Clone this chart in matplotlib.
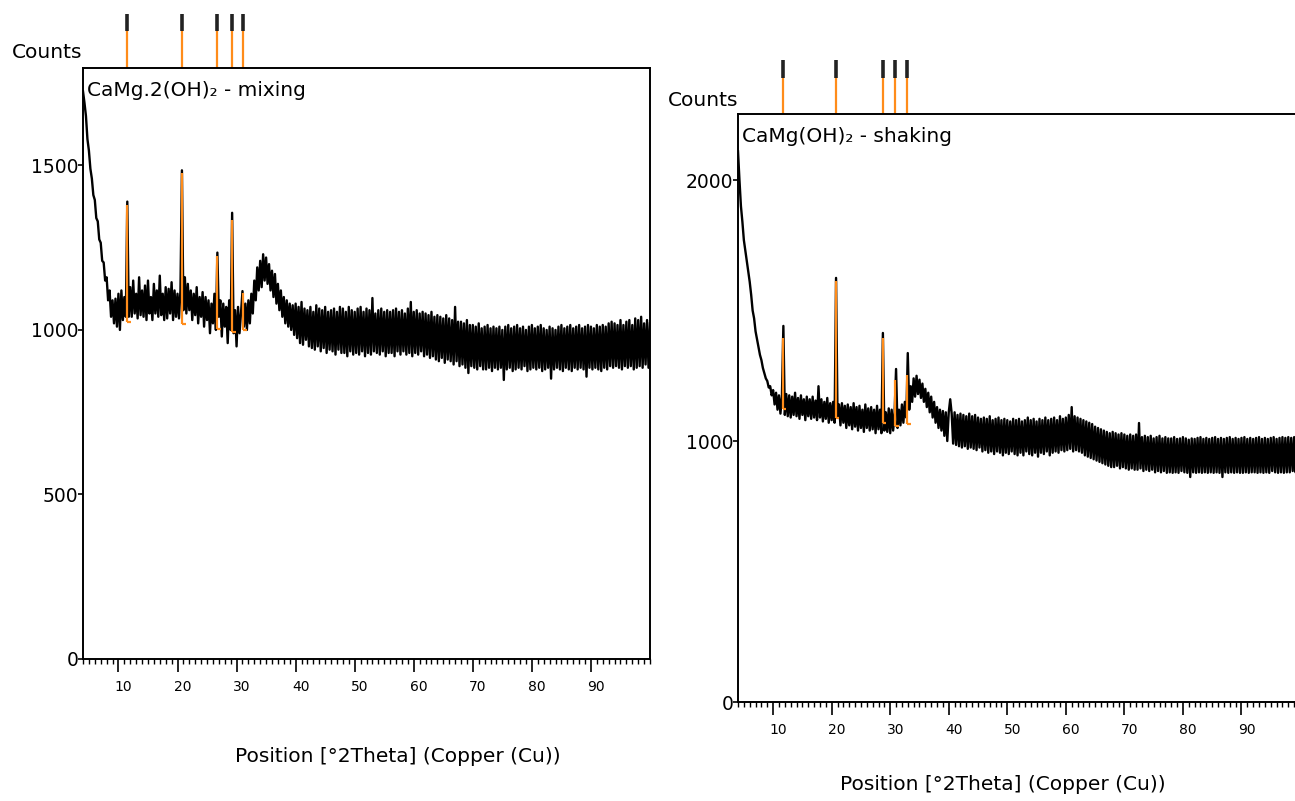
import numpy as np
import matplotlib
matplotlib.use('Agg')
import matplotlib.pyplot as plt
from matplotlib.ticker import MultipleLocator, FixedLocator
from matplotlib.transforms import ScaledTranslation

plt.rcParams['font.family'] = ['DejaVu Sans']

# 2theta grid of the scans, 4..100 deg in 0.25 deg steps
two_theta = np.arange(4.0, 100.001, 0.25)

# CaMg.2(OH)2 - mixing, counts
mixing_counts = [
    1725, 1690, 1650, 1580, 1545, 1490, 1460, 1410,
    1395, 1340, 1330, 1275, 1265, 1210, 1205, 1150,
    1160, 1090, 1120, 1040, 1090, 1020, 1095, 1010,
    1110, 1000, 1120, 1030, 1100, 1040, 1390, 1040,
    1130, 1040, 1150, 1050, 1110, 1035, 1160, 1045,
    1120, 1040, 1135, 1030, 1150, 1050, 1100, 1030,
    1140, 1050, 1120, 1040, 1165, 1045, 1110, 1030,
    1130, 1035, 1125, 1050, 1145, 1030, 1120, 1040,
    1110, 1035, 1120, 1485, 1060, 1160, 1050, 1140,
    1060, 1120, 1030, 1110, 1045, 1130, 1020, 1100,
    1040, 1115, 1010, 1100, 1030, 1090, 990, 1080,
    1020, 1110, 1000, 1235, 1040, 1090, 980, 1080,
    1010, 1070, 960, 1090, 1000, 1356, 990, 1060,
    950, 1070, 990, 1050, 1118, 1010, 1080, 1000,
    1090, 1020, 1110, 1050, 1150, 1090, 1190, 1120,
    1210, 1130, 1230, 1150, 1220, 1140, 1200, 1120,
    1180, 1100, 1170, 1080, 1140, 1060, 1120, 1040,
    1100, 1020, 1090, 1010, 1080, 1000, 1075, 985,
    1080, 975, 1070, 960, 1085, 955, 1065, 970,
    1060, 950, 1070, 945, 1055, 940, 1075, 950,
    1065, 935, 1060, 945, 1070, 930, 1055, 940,
    1060, 935, 1065, 925, 1055, 940, 1070, 930,
    1065, 930, 1055, 920, 1070, 935, 1060, 925,
    1055, 930, 1065, 925, 1070, 935, 1055, 920,
    1065, 930, 1060, 925, 1097, 935, 1050, 930,
    1060, 925, 1065, 935, 1055, 920, 1060, 930,
    1055, 930, 1060, 920, 1065, 935, 1055, 925,
    1060, 935, 1050, 925, 1065, 930, 1085, 920,
    1055, 930, 1060, 925, 1050, 935, 1055, 920,
    1050, 925, 1045, 915, 1055, 920, 1040, 910,
    1045, 905, 1040, 915, 1035, 900, 1045, 910,
    1035, 905, 1030, 895, 1070, 905, 1025, 890,
    1025, 895, 1020, 885, 1030, 869, 1015, 890,
    1015, 885, 1010, 880, 1020, 890, 1005, 880,
    1010, 880, 1015, 885, 1005, 875, 1010, 885,
    1005, 880, 1010, 885, 1000, 848, 1010, 880,
    1015, 885, 1005, 875, 1010, 880, 1015, 885,
    1005, 880, 1010, 890, 1000, 875, 1010, 880,
    1015, 885, 1005, 880, 1010, 885, 1015, 875,
    1005, 880, 1000, 885, 1010, 852, 1005, 880,
    1000, 885, 1010, 880, 1015, 875, 1005, 885,
    1010, 880, 1015, 875, 1005, 885, 1010, 880,
    1015, 885, 1005, 880, 1010, 858, 1015, 885,
    1010, 880, 1005, 885, 1015, 880, 1010, 875,
    1015, 885, 1010, 880, 1020, 890, 1025, 885,
    1020, 890, 1015, 885, 1030, 880, 1015, 890,
    1025, 885, 1030, 890, 1015, 880, 1035, 885,
    1030, 890, 1040, 885, 1020, 895, 1030, 885,
    1020,
]

# CaMg(OH)2 - shaking, counts
shaking_counts = [
    2110, 2000, 1900, 1840, 1770, 1730, 1690, 1650,
    1610, 1560, 1500, 1470, 1420, 1390, 1360, 1330,
    1310, 1280, 1260, 1240, 1230, 1205, 1210, 1175,
    1195, 1140, 1185, 1120, 1175, 1105, 1170, 1441,
    1100, 1180, 1095, 1175, 1090, 1170, 1100, 1185,
    1095, 1165, 1085, 1175, 1100, 1160, 1080, 1170,
    1095, 1160, 1085, 1170, 1090, 1155, 1080, 1210,
    1090, 1160, 1075, 1150, 1085, 1165, 1070, 1145,
    1080, 1150, 1070, 1625, 1090, 1140, 1060, 1145,
    1070, 1135, 1050, 1140, 1060, 1130, 1045, 1145,
    1055, 1130, 1040, 1135, 1050, 1120, 1035, 1140,
    1050, 1125, 1040, 1130, 1045, 1120, 1030, 1135,
    1045, 1120, 1030, 1414, 1040, 1110, 1035, 1125,
    1030, 1120, 1040, 1110, 1276, 1050, 1120, 1060,
    1140, 1070, 1150, 1090, 1337, 1120, 1210, 1150,
    1240, 1170, 1250, 1180, 1235, 1165, 1220, 1150,
    1200, 1130, 1185, 1110, 1170, 1090, 1150, 1070,
    1130, 1050, 1120, 1040, 1115, 1020, 1110, 1000,
    1110, 1160, 1105, 990, 1110, 985, 1100, 980,
    1105, 975, 1100, 980, 1095, 970, 1105, 975,
    1095, 970, 1100, 965, 1090, 975, 1085, 960,
    1090, 965, 1085, 955, 1095, 960, 1080, 950,
    1085, 960, 1090, 955, 1080, 945, 1085, 955,
    1080, 950, 1075, 960, 1085, 950, 1080, 945,
    1085, 955, 1075, 945, 1080, 960, 1090, 950,
    1080, 945, 1085, 955, 1075, 940, 1085, 955,
    1080, 950, 1090, 960, 1080, 945, 1085, 955,
    1090, 960, 1080, 955, 1095, 965, 1085, 960,
    1090, 965, 1100, 970, 1130, 960, 1095, 965,
    1090, 960, 1085, 955, 1080, 945, 1075, 940,
    1070, 935, 1065, 930, 1055, 925, 1050, 920,
    1045, 915, 1040, 910, 1035, 905, 1030, 900,
    1035, 900, 1030, 905, 1025, 895, 1030, 900,
    1025, 895, 1020, 890, 1025, 895, 1020, 890,
    1025, 890, 1069, 895, 1015, 885, 1020, 890,
    1015, 885, 1020, 890, 1010, 880, 1015, 885,
    1020, 880, 1010, 885, 1015, 878, 1010, 880,
    1010, 878, 1015, 880, 1008, 878, 1010, 885,
    1015, 880, 1010, 878, 1005, 862, 1010, 880,
    1008, 878, 1012, 880, 1015, 878, 1008, 880,
    1012, 878, 1008, 880, 1012, 878, 1015, 880,
    1008, 878, 1012, 862, 1008, 880, 1012, 878,
    1015, 880, 1008, 878, 1012, 880, 1008, 878,
    1012, 878, 1015, 880, 1008, 878, 1012, 880,
    1008, 880, 1012, 878, 1015, 880, 1008, 878,
    1012, 880, 1008, 878, 1012, 885, 1015, 880,
    1008, 878, 1012, 880, 1015, 878, 1012, 880,
    1015, 880, 1012, 885, 1015, 880, 1012, 878,
    1012,
]

# peak list: position, peak top and background level
mixing_peaks = [11.45, 20.76, 26.69, 29.23, 31.09]
mixing_tops = [1380, 1477, 1225, 1334, 1112]
mixing_base = [1024, 1018, 1003, 994, 1000]

shaking_peaks = [11.64, 20.70, 28.73, 30.89, 32.94]
shaking_tops = [1395, 1613, 1395, 1234, 1253]
shaking_base = [1123, 1088, 1069, 1057, 1065]

W, H = 1295, 801
fig = plt.figure(figsize=(W / 100, H / 100), dpi=100)

ORANGE = '#ff8c1a'


def px_axes(x0, y0, x1, y1):
    return fig.add_axes([x0 / W, 1 - y1 / H, (x1 - x0) / W, (y1 - y0) / H])


def draw_scan(ax, counts, peaks, tops, base, ymax, yticks, title):
    ax.plot(two_theta, counts, color='black', lw=1.7)
    ax.vlines(peaks, base, tops, color=ORANGE, lw=1.6)
    ax.hlines(base, peaks, np.array(peaks) + 0.6, color=ORANGE, lw=1.6)

    # reference pattern markers above the frame
    xt = ax.get_xaxis_transform()
    ax.vlines(peaks, 1.0, 1.062, color=ORANGE, lw=1.6, transform=xt, clip_on=False)
    ax.vlines(peaks, 1.062, 1.092, color='#222222', lw=2.6, transform=xt, clip_on=False)

    ax.set_xlim(4, 100)
    ax.set_ylim(0, ymax)
    ax.xaxis.set_major_locator(FixedLocator(range(10, 100, 10)))
    ax.xaxis.set_minor_locator(MultipleLocator(1))
    ax.yaxis.set_major_locator(FixedLocator(yticks))
    ax.tick_params(axis='x', which='major', direction='out', length=9, width=1.2,
                   labelsize=10, pad=6, colors='black')
    ax.tick_params(axis='x', which='minor', direction='out', length=3.5, width=1.0)
    ax.tick_params(axis='y', direction='out', length=3.5, width=1.2, labelsize=13.5, pad=0)
    for lbl in ax.get_xticklabels():
        lbl.set_transform(lbl.get_transform() + ScaledTranslation(0.05, 0, fig.dpi_scale_trans))
    for s in ax.spines.values():
        s.set_linewidth(1.4)
    ax.text(0.007, 0.978, title, transform=ax.transAxes, ha='left', va='top', fontsize=14.5)


ax1 = px_axes(83, 68, 650, 659)
draw_scan(ax1, mixing_counts, mixing_peaks, mixing_tops, mixing_base, 1796,
          [0, 500, 1000, 1500], 'CaMg.2(OH)₂ - mixing')

ax2 = px_axes(738, 114, 1300, 702)
draw_scan(ax2, shaking_counts, shaking_peaks, shaking_tops, shaking_base, 2253,
          [0, 1000, 2000], 'CaMg(OH)₂ - shaking')

fig.text(12 / W, 1 - 53 / H, 'Counts', ha='left', va='center', fontsize=14.5)
fig.text(668 / W, 1 - 100 / H, 'Counts', ha='left', va='center', fontsize=14.5)
fig.text(398 / W, 1 - 757 / H, 'Position [°2Theta] (Copper (Cu))', ha='center', va='center', fontsize=14.5)
fig.text(1003 / W, 1 - 785 / H, 'Position [°2Theta] (Copper (Cu))', ha='center', va='center', fontsize=14.5)

fig.savefig('out.png', dpi=100)
